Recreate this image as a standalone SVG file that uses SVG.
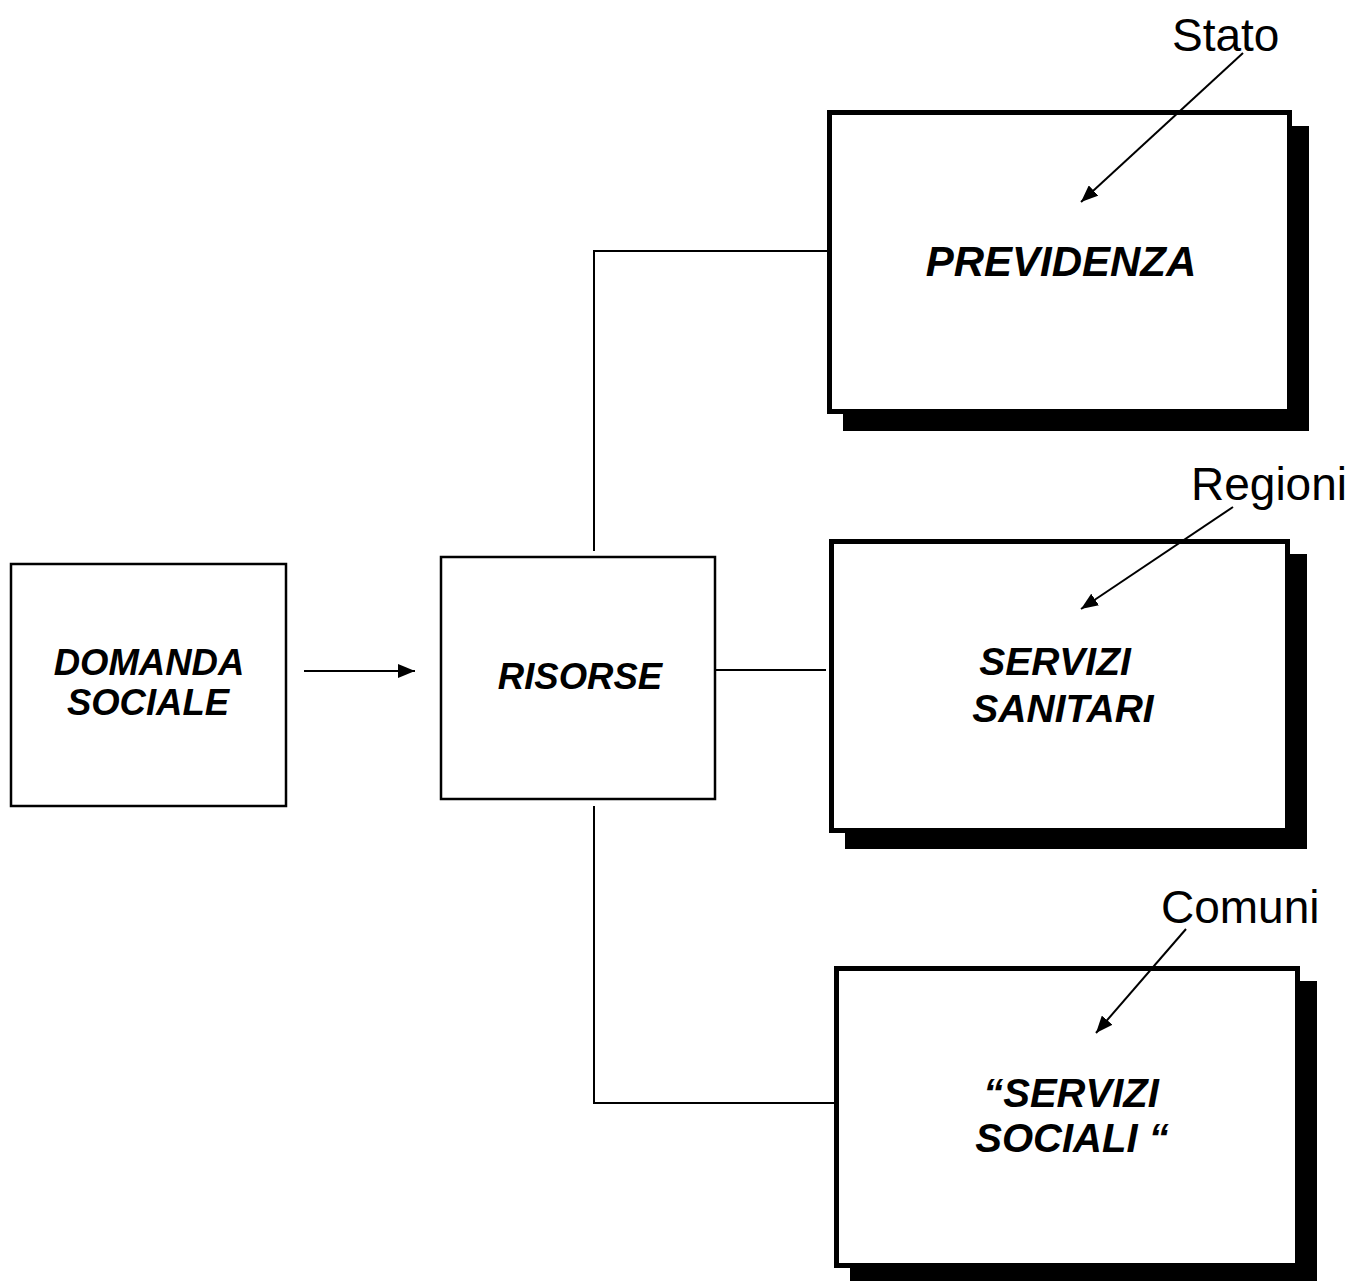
<svg xmlns="http://www.w3.org/2000/svg" width="1356" height="1281" viewBox="0 0 1356 1281">
  <defs>
    <style>
      .box { fill: #fff; stroke: #000; stroke-width: 2.5; }
      .heavy { fill: #fff; stroke: #000; stroke-width: 5; }
      .shadow { fill: #000; }
      .title { font-family: "Liberation Sans", Arial, sans-serif; font-weight: bold; font-style: italic; fill: #000; text-anchor: middle; }
      .label { font-family: "Liberation Sans", Arial, sans-serif; font-size: 46px; fill: #000; }
      .wire { fill: none; stroke: #000; stroke-width: 2; }
    </style>
    <marker id="head" viewBox="0 0 17 14" refX="17" refY="7" markerWidth="17" markerHeight="14" markerUnits="userSpaceOnUse" orient="auto">
      <path d="M0,0 L17,7 L0,14 z" fill="#000"/>
    </marker>
  </defs>

  <rect width="1356" height="1281" fill="#fff"/>

  <g id="domanda-sociale">
    <rect class="box" x="11" y="564" width="275" height="242"/>
    <text class="title" font-size="36.5" x="149" y="675">DOMANDA</text>
    <text class="title" font-size="36.5" x="148" y="715">SOCIALE</text>
  </g>

  <g id="risorse">
    <rect class="box" x="441" y="557" width="274" height="242"/>
    <text class="title" font-size="36.5" x="580" y="689">RISORSE</text>
  </g>

  <g id="previdenza">
    <rect class="shadow" x="843" y="126" width="466" height="305"/>
    <rect class="heavy" x="829.5" y="112.5" width="460" height="299"/>
    <text class="title" font-size="42" x="1061" y="276">PREVIDENZA</text>
  </g>

  <g id="servizi-sanitari">
    <rect class="shadow" x="845" y="554" width="462" height="295"/>
    <rect class="heavy" x="831.5" y="541.5" width="456" height="289"/>
    <text class="title" font-size="39" x="1055" y="675">SERVIZI</text>
    <text class="title" font-size="39" x="1063" y="722">SANITARI</text>
  </g>

  <g id="servizi-sociali">
    <rect class="shadow" x="850" y="981" width="467" height="305"/>
    <rect class="heavy" x="836.5" y="968.5" width="461" height="297"/>
    <text class="title" font-size="40" x="1071" y="1107">“SERVIZI</text>
    <text class="title" font-size="40" x="1072" y="1152">SOCIALI “</text>
  </g>

  <!-- level labels -->
  <g id="stato"><text class="label" x="1172" y="51">Stato</text></g>
  <g id="regioni"><text class="label" x="1191" y="500">Regioni</text></g>
  <g id="comuni"><text class="label" x="1161" y="923">Comuni</text></g>

  <!-- connectors, drawn over the boxes so the level pointers stay visible -->
  <g id="connectors">
    <line class="wire" x1="304" y1="671" x2="415" y2="671" marker-end="url(#head)"/>
    <polyline class="wire" points="594,551 594,251 827,251"/>
    <line class="wire" x1="716" y1="670" x2="826" y2="670"/>
    <polyline class="wire" points="594,806 594,1103 834,1103"/>
    <line class="wire" x1="1243" y1="53" x2="1081" y2="202" marker-end="url(#head)"/>
    <line class="wire" x1="1233" y1="507" x2="1081" y2="609" marker-end="url(#head)"/>
    <line class="wire" x1="1186" y1="929" x2="1096" y2="1033" marker-end="url(#head)"/>
  </g>
</svg>
